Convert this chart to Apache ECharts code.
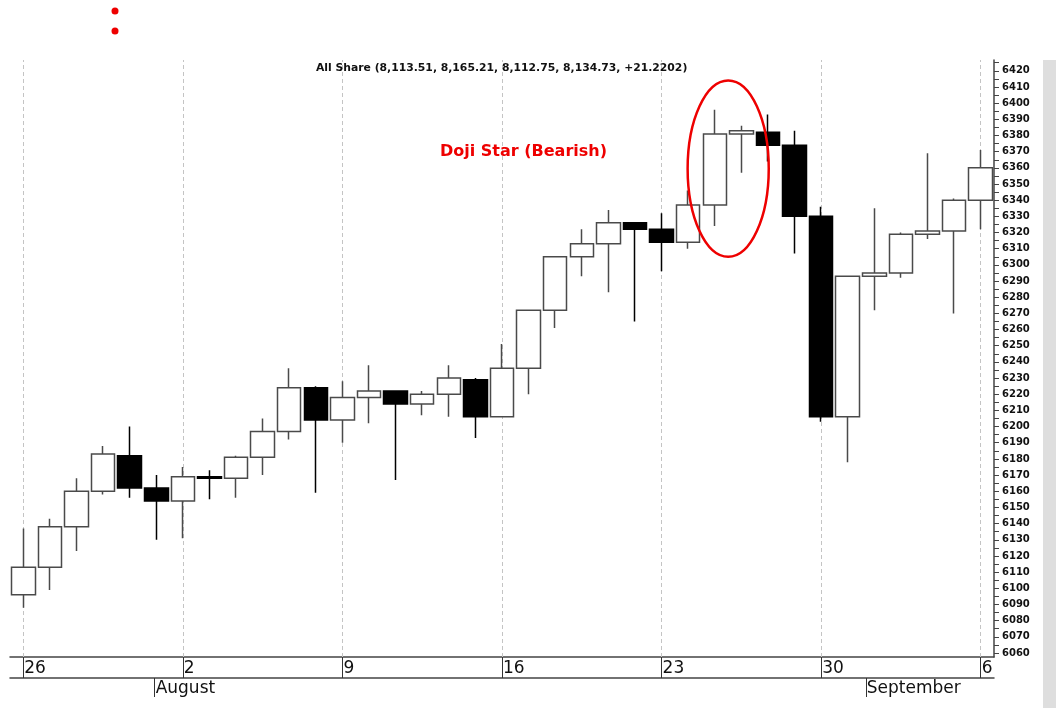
<!DOCTYPE html>
<html>
<head>
<meta charset="utf-8">
<title>All Share</title>
<script src="https://cdn.jsdelivr.net/npm/echarts@6/dist/echarts.min.js"></script>
<style>
  html, body { margin: 0; padding: 0; background: #fff; }
  #chart { width: 1056px; height: 708px; }
</style>
</head>
<body>
<div id="chart"></div>
<script>
// six trading slots per week
const dates = [
  'Jul 26', 'Jul 27', 'Jul 28', 'Jul 29', 'Jul 30', 'Jul 31',
  'Aug 2', 'Aug 3', 'Aug 4', 'Aug 5', 'Aug 6', 'Aug 7',
  'Aug 9', 'Aug 10', 'Aug 11', 'Aug 12', 'Aug 13', 'Aug 14',
  'Aug 16', 'Aug 17', 'Aug 18', 'Aug 19', 'Aug 20', 'Aug 21',
  'Aug 23', 'Aug 24', 'Aug 25', 'Aug 26', 'Aug 27', 'Aug 28',
  'Aug 30', 'Aug 31', 'Sep 1', 'Sep 2', 'Sep 3', 'Sep 4',
  'Sep 6'
]
const opens = [6096, 6113, 6138, 6160, 6182, 6162, 6154, 6169, 6168, 6181, 6197, 6224, 6204, 6218, 6222, 6214, 6220, 6229, 6206, 6236, 6272, 6305, 6313, 6326, 6322, 6314, 6337, 6381, 6382, 6374, 6330, 6206, 6293, 6295, 6319, 6321, 6340]
const closes = [6113, 6138, 6160, 6183, 6162, 6154, 6169, 6168, 6181, 6197, 6224, 6204, 6218, 6222, 6214, 6220, 6230, 6206, 6236, 6272, 6305, 6313, 6326, 6322, 6314, 6337, 6381, 6383, 6374, 6330, 6206, 6293, 6295, 6319, 6321, 6340, 6360]
const lows = [6088, 6099, 6123, 6158, 6156, 6130, 6131, 6155, 6156, 6170, 6192, 6159, 6190, 6202, 6167, 6207, 6206, 6193, 6206, 6220, 6261, 6293, 6283, 6265, 6296, 6310, 6324, 6357, 6364, 6307, 6203, 6178, 6272, 6292, 6316, 6270, 6322]
const highs = [6137, 6143, 6168, 6188, 6200, 6170, 6175, 6173, 6182, 6205, 6236, 6225, 6228, 6238, 6222, 6222, 6238, 6230, 6251, 6272, 6305, 6322, 6334, 6326, 6332, 6346, 6396, 6386, 6393, 6383, 6336, 6293, 6335, 6320, 6369, 6341, 6371]

const weekStarts = ['Jul 26', 'Aug 2', 'Aug 9', 'Aug 16', 'Aug 23', 'Aug 30', 'Sep 6']
const monthTicks = [4.94, 31.68]
const monthNames = ['August', 'September']
const yLabels = [6060, 6070, 6080, 6090, 6100, 6110, 6120, 6130, 6140, 6150, 6160, 6170, 6180, 6190, 6200, 6210, 6220, 6230, 6240, 6250, 6260, 6270, 6280, 6290, 6300, 6310, 6320, 6330, 6340, 6350, 6360, 6370, 6380, 6390, 6400, 6410, 6420]
const yTicks = yLabels.flatMap(v => [v, v + 5])

const font = 'DejaVu Sans'
const red = '#ee0000'
const weekIdx = weekStarts.map(d => dates.indexOf(d))

const chart = echarts.init(document.getElementById('chart'))
const isWeekStart = (idx) => weekIdx.indexOf(idx) >= 0

chart.setOption({
  animation: false,
  title: {
    text: 'All Share (8,113.51, 8,165.21, 8,112.75, 8,134.73, +21.2202)',
    left: 316,
    top: 63,
    padding: 0,
    textStyle: { fontFamily: font, fontSize: 10.8, fontWeight: 'bold', color: '#111' }
  },
  grid: { left: 10, right: 62, top: 60, bottom: 51 },
  xAxis: [
    {
      type: 'category',
      data: dates,
      boundaryGap: true,
      axisLine: { onZero: false, lineStyle: { color: '#444', width: 1.5 } },
      axisTick: { show: false },
      axisLabel: {
        interval: isWeekStart,
        formatter: v => v.split(' ')[1],
        align: 'left',
        padding: [0, 0, 0, 1],
        margin: 3,
        fontFamily: font,
        fontSize: 17,
        color: '#111'
      },
      splitLine: { show: false }
    },
    {
      // month band under the day numbers
      type: 'value',
      min: -0.5,
      max: dates.length - 0.5,
      position: 'bottom',
      offset: 21,
      axisLine: { show: true, onZero: false, lineStyle: { color: '#444', width: 1.5 } },
      axisTick: { show: true, customValues: monthTicks, length: 19, lineStyle: { color: '#333' } },
      axisLabel: {
        customValues: monthTicks,
        formatter: v => monthNames[monthTicks.indexOf(v)] || '',
        align: 'left',
        padding: [0, 0, 0, 1],
        margin: 2,
        fontFamily: font,
        fontSize: 17,
        color: '#111'
      },
      splitLine: { show: false }
    },
    {
      // week dividers inside the day band
      type: 'value',
      min: -0.5,
      max: dates.length - 0.5,
      position: 'bottom',
      offset: 0,
      axisLine: { show: false, onZero: false },
      axisTick: { show: true, customValues: weekIdx, length: 21, lineStyle: { color: '#333' } },
      axisLabel: { show: false },
      splitLine: { show: false }
    }
  ],
  yAxis: {
    type: 'value',
    position: 'right',
    min: 6057.5,
    max: 6426.7,
    axisLine: { show: true, onZero: false, lineStyle: { color: '#444', width: 1.5 } },
    axisTick: { show: true, customValues: yTicks, length: 5, lineStyle: { color: '#444' } },
    axisLabel: {
      customValues: yLabels,
      formatter: v => String(v),
      margin: 8,
      fontFamily: font,
      fontSize: 10,
      fontWeight: 'bold',
      color: '#111'
    },
    splitLine: { show: false }
  },
  series: [
    {
      type: 'candlestick',
      xAxisIndex: 0,
      yAxisIndex: 0,
      z: 2,
      barWidth: 24,
      data: dates.map((d, i) => [opens[i], closes[i], lows[i], highs[i]]),
      itemStyle: {
        color: '#ffffff',
        color0: '#000000',
        borderColor: '#4a4a4a',
        borderColor0: '#000000',
        borderColorDoji: '#222222',
        borderWidth: 1.5
      },
      markLine: {
        silent: true,
        z: 1,
        symbol: ['none', 'none'],
        label: { show: false },
        lineStyle: { type: [4, 3], color: '#c4c4c4', width: 1 },
        data: weekStarts.map(d => ({ xAxis: d }))
      }
    }
  ]
})

// annotation: ellipse round the doji star, placed through the axes
const ellipseBox = { x: [24.98, 28.03], y: [6305, 6414] }
const p0 = chart.convertToPixel({ xAxisIndex: 1, yAxisIndex: 0 }, [ellipseBox.x[0], ellipseBox.y[1]])
const p1 = chart.convertToPixel({ xAxisIndex: 1, yAxisIndex: 0 }, [ellipseBox.x[1], ellipseBox.y[0]])

chart.setOption({
  graphic: [
    {
      type: 'ellipse',
      shape: { cx: (p0[0] + p1[0]) / 2, cy: (p0[1] + p1[1]) / 2, rx: (p1[0] - p0[0]) / 2, ry: (p1[1] - p0[1]) / 2 },
      style: { fill: 'none', stroke: red, lineWidth: 2.5 },
      z: 10
    },
    {
      type: 'text',
      left: 440,
      top: 144,
      style: { text: 'Doji Star (Bearish)', fill: red, font: 'bold 16px "DejaVu Sans"' },
      z: 10
    },
    { type: 'circle', shape: { cx: 115, cy: 11, r: 3.5 }, style: { fill: red } },
    { type: 'circle', shape: { cx: 115, cy: 31, r: 3.5 }, style: { fill: red } },
    { type: 'rect', shape: { x: 1043, y: 60, width: 13, height: 648 }, style: { fill: '#dedede' } }
  ]
})
</script>
</body>
</html>
